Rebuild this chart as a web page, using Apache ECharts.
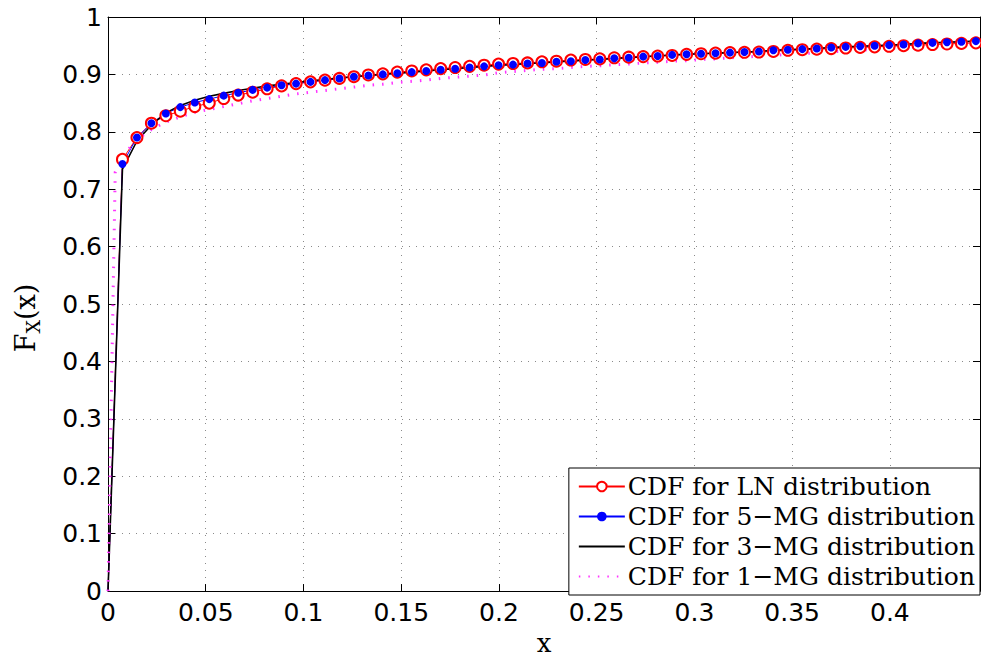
<!DOCTYPE html>
<html>
<head>
<meta charset="utf-8">
<script src="https://cdn.jsdelivr.net/npm/echarts@6/dist/echarts.min.js"></script>
<style>
html,body{margin:0;padding:0;background:#fff;}
#chart{width:981px;height:661px;}
</style>
</head>
<body>
<div id="chart"></div>
<script>
// x positions of the sampled points
var xVals = [0, 0.0074, 0.0148, 0.0222, 0.0296, 0.037, 0.0444, 0.0518, 0.0592, 0.0666, 0.074, 0.0814, 0.0888, 0.0962, 0.1036, 0.111, 0.1184, 0.1258, 0.1332, 0.1406, 0.148, 0.1554, 0.1628, 0.1702, 0.1776, 0.185, 0.1924, 0.1998, 0.2072, 0.2146, 0.222, 0.2294, 0.2368, 0.2442, 0.2516, 0.259, 0.2664, 0.2738, 0.2812, 0.2886, 0.296, 0.3034, 0.3108, 0.3182, 0.3256, 0.333, 0.3404, 0.3478, 0.3552, 0.3626, 0.37, 0.3774, 0.3848, 0.3922, 0.3996, 0.407, 0.4144, 0.4218, 0.4292, 0.4366, 0.444];

var cdfLN = [0, 0.752, 0.790, 0.815, 0.828, 0.836, 0.844, 0.850, 0.858, 0.864, 0.869, 0.875, 0.880, 0.884, 0.887, 0.890, 0.893, 0.896, 0.899, 0.901, 0.904, 0.906, 0.908, 0.910, 0.912, 0.914, 0.916, 0.918, 0.919, 0.920, 0.922, 0.923, 0.925, 0.926, 0.927, 0.929, 0.930, 0.931, 0.932, 0.933, 0.935, 0.936, 0.937, 0.938, 0.9385, 0.939, 0.940, 0.942, 0.943, 0.944, 0.945, 0.946, 0.947, 0.948, 0.949, 0.950, 0.951, 0.952, 0.953, 0.954, 0.955];

var cdf5MG = [0, 0.744, 0.790, 0.815, 0.832, 0.843, 0.851, 0.857, 0.863, 0.868, 0.873, 0.877, 0.881, 0.884, 0.887, 0.890, 0.893, 0.896, 0.898, 0.900, 0.902, 0.904, 0.906, 0.908, 0.910, 0.912, 0.914, 0.916, 0.917, 0.919, 0.920, 0.922, 0.923, 0.925, 0.926, 0.928, 0.929, 0.931, 0.932, 0.934, 0.935, 0.936, 0.937, 0.938, 0.939, 0.940, 0.942, 0.943, 0.944, 0.945, 0.947, 0.948, 0.949, 0.950, 0.951, 0.952, 0.954, 0.955, 0.956, 0.957, 0.958];

var cdf3MG = [0, 0.735, 0.784, 0.812, 0.833, 0.846, 0.855, 0.862, 0.867, 0.872, 0.876, 0.880, 0.883, 0.886, 0.889, 0.891, 0.894, 0.896, 0.898, 0.900, 0.902, 0.904, 0.906, 0.908, 0.910, 0.912, 0.914, 0.916, 0.917, 0.919, 0.920, 0.922, 0.923, 0.925, 0.926, 0.928, 0.929, 0.931, 0.932, 0.934, 0.935, 0.936, 0.937, 0.938, 0.939, 0.940, 0.942, 0.943, 0.944, 0.945, 0.947, 0.948, 0.949, 0.950, 0.951, 0.952, 0.954, 0.955, 0.956, 0.957, 0.958];

// 1-MG curve has one extra early point
var xVals1MG = [0, 0.0037, 0.0074, 0.0148, 0.0222, 0.0296, 0.037, 0.0444, 0.0518, 0.0592, 0.0666, 0.074, 0.0814, 0.0888, 0.0962, 0.1036, 0.111, 0.1184, 0.1258, 0.1332, 0.1406, 0.148, 0.1554, 0.1628, 0.1702, 0.1776, 0.185, 0.1924, 0.1998, 0.2072, 0.2146, 0.222, 0.2294, 0.2368, 0.2442, 0.2516, 0.259, 0.2664, 0.2738, 0.2812, 0.2886, 0.296, 0.3034, 0.3108, 0.3182, 0.3256, 0.333, 0.3404, 0.3478, 0.3552, 0.3626, 0.37, 0.3774, 0.3848, 0.3922, 0.3996, 0.407, 0.4144, 0.4218, 0.4292, 0.4366, 0.444];
var cdf1MG = [0, 0.730, 0.757, 0.787, 0.804, 0.817, 0.826, 0.834, 0.839, 0.844, 0.849, 0.854, 0.858, 0.862, 0.866, 0.869, 0.872, 0.875, 0.878, 0.881, 0.883, 0.886, 0.888, 0.890, 0.893, 0.895, 0.897, 0.899, 0.903, 0.905, 0.907, 0.909, 0.910, 0.912, 0.914, 0.915, 0.917, 0.918, 0.920, 0.921, 0.923, 0.924, 0.926, 0.927, 0.929, 0.930, 0.932, 0.933, 0.935, 0.936, 0.938, 0.939, 0.941, 0.942, 0.944, 0.945, 0.947, 0.948, 0.950, 0.951, 0.952, 0.954];

var seriesNames = ['CDF for LN distribution', 'CDF for 5\u2212MG distribution', 'CDF for 3\u2212MG distribution', 'CDF for 1\u2212MG distribution'];
var xAxisTitle = 'x';
var yAxisTitle = '{a|F}{b|X}{a|(x)}';
var xTickInterval = 0.05;
var yTickInterval = 0.1;
var xMax = 0.4461;

function pairs(xs, ys) {
  var out = [];
  for (var i = 0; i < xs.length; i++) {
    // no marker drawn at the origin point
    if (i === 0) out.push({value: [xs[i], ys[i]], symbol: 'none'});
    else out.push([xs[i], ys[i]]);
  }
  return out;
}

var chart = echarts.init(document.getElementById('chart'), null, {renderer: 'svg'});

var tickFont = {fontFamily: 'DejaVu Sans', fontSize: 25, color: '#000'};
var gridLine = {show: true, lineStyle: {color: '#8a8a8a', width: 1, type: [1, 6]}};

var option = {
  animation: false,
  backgroundColor: '#fff',
  grid: {left: 108, right: 1, top: 17, bottom: 60, containLabel: false},
  graphic: [{
    type: 'text',
    x: 25,
    y: 318,
    rotation: Math.PI / 2,
    silent: true,
    style: {
      text: yAxisTitle,
      align: 'center',
      verticalAlign: 'middle',
      rich: {
        a: {fontFamily: 'DejaVu Serif', fontSize: 27, fill: '#000', lineHeight: 34, verticalAlign: 'middle'},
        b: {fontFamily: 'DejaVu Serif', fontSize: 19, fill: '#000', lineHeight: 34, verticalAlign: 'bottom'}
      }
    }
  }],
  legend: {
    orient: 'vertical',
    right: 1,
    bottom: 66,
    padding: [6, 5, 6, 9],
    itemGap: 5,
    itemWidth: 46,
    itemHeight: 12,
    backgroundColor: '#fff',
    borderColor: '#000',
    borderWidth: 1,
    borderRadius: 0,
    textStyle: {fontFamily: 'DejaVu Serif', fontSize: 25, color: '#000', padding: [0, 0, 0, -2]},
    data: [
      {name: seriesNames[0]},
      {name: seriesNames[1], itemStyle: {opacity: 1}},
      {name: seriesNames[2], itemStyle: {opacity: 0}},
      {name: seriesNames[3], itemStyle: {opacity: 0}}
    ]
  },
  xAxis: [
    {
      type: 'value', min: 0, max: xMax, interval: xTickInterval,
      position: 'bottom',
      name: xAxisTitle, nameLocation: 'middle', nameGap: 34,
      nameTextStyle: {fontFamily: 'DejaVu Serif', fontSize: 26, color: '#000'},
      axisLine: {show: true, onZero: false, lineStyle: {color: '#000', width: 1}},
      axisTick: {show: true, inside: true, length: 7, lineStyle: {color: '#000'}},
      axisLabel: Object.assign({margin: 9, showMaxLabel: false}, tickFont),
      splitLine: gridLine
    },
    {
      type: 'value', min: 0, max: xMax, interval: xTickInterval,
      position: 'top',
      axisLine: {show: true, onZero: false, lineStyle: {color: '#000', width: 1}},
      axisTick: {show: true, inside: true, length: 7, lineStyle: {color: '#000'}},
      axisLabel: {show: false},
      splitLine: {show: false}
    }
  ],
  yAxis: [
    {
      type: 'value', min: 0, max: 1, interval: yTickInterval,
      position: 'left',
      axisLine: {show: true, onZero: false, lineStyle: {color: '#000', width: 1}},
      axisTick: {show: true, inside: true, length: 7, lineStyle: {color: '#000'}},
      axisLabel: Object.assign({margin: 6}, tickFont),
      splitLine: gridLine
    },
    {
      type: 'value', min: 0, max: 1, interval: yTickInterval,
      position: 'right',
      axisLine: {show: true, onZero: false, lineStyle: {color: '#000', width: 1}},
      axisTick: {show: true, inside: true, length: 7, lineStyle: {color: '#000'}},
      axisLabel: {show: false},
      splitLine: {show: false}
    }
  ],
  series: [
    {
      name: seriesNames[0], type: 'line', data: pairs(xVals, cdfLN),
      symbol: 'emptyCircle', symbolSize: 11, showSymbol: true,
      lineStyle: {color: '#ff0000', width: 1},
      itemStyle: {color: '#ff0000', borderColor: '#ff0000', borderWidth: 1},
      emphasis: {disabled: true}
    },
    {
      name: seriesNames[1], type: 'line', data: pairs(xVals, cdf5MG),
      symbol: 'circle', symbolSize: 8, showSymbol: true,
      lineStyle: {color: '#0000ff', width: 1},
      itemStyle: {color: '#0000ff'},
      emphasis: {disabled: true}
    },
    {
      name: seriesNames[2], type: 'line', data: pairs(xVals, cdf3MG),
      symbol: 'none', showSymbol: false,
      lineStyle: {color: '#000000', width: 1.6},
      itemStyle: {color: '#000000'},
      emphasis: {disabled: true}
    },
    {
      name: seriesNames[3], type: 'line', data: pairs(xVals1MG, cdf1MG),
      symbol: 'none', showSymbol: false,
      lineStyle: {color: '#ff33ff', width: 3, type: [1.5, 8], cap: 'butt'},
      itemStyle: {color: '#ff33ff'},
      emphasis: {disabled: true}
    }
  ]
};
chart.setOption(option);
</script>
</body>
</html>
